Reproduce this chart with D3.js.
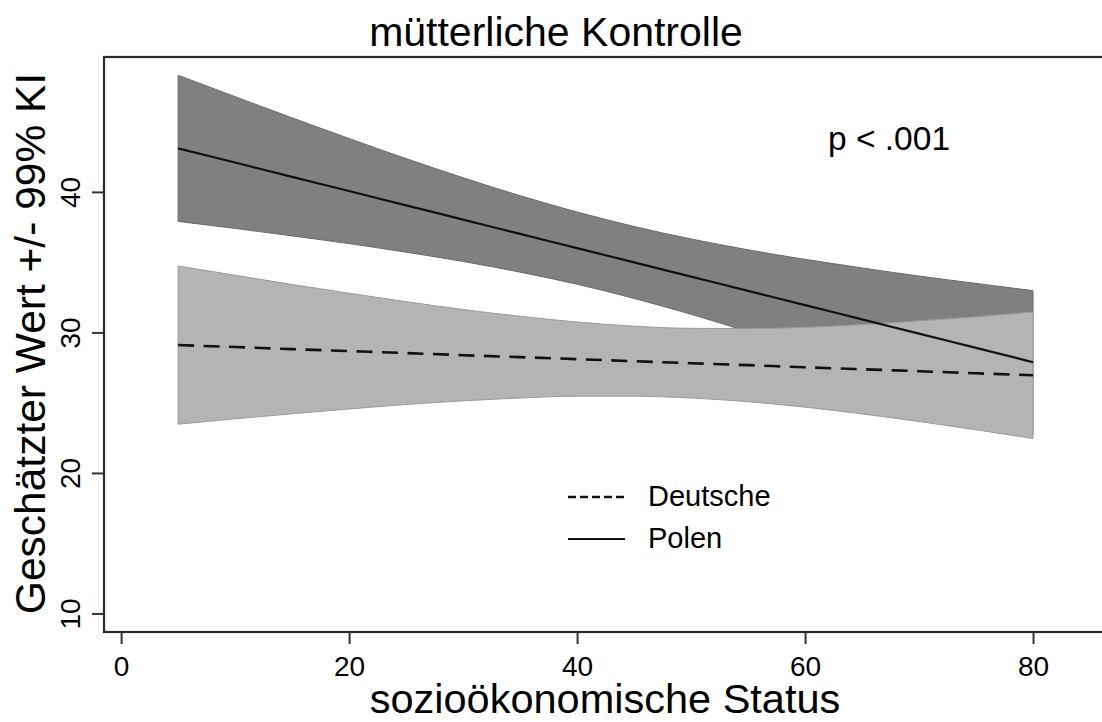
<!DOCTYPE html>
<html>
<head>
<meta charset="utf-8">
<script src="https://cdn.jsdelivr.net/npm/d3@7"></script>
<style>
  body { margin: 0; background: white; }
  text { font-family: "Liberation Sans", Arial, sans-serif; fill: black; }
</style>
</head>
<body>
<script>
// values
var ses = [5, 10, 15, 20, 25, 30, 35, 40, 45, 50, 55, 60, 65, 70, 75, 80];

var polenFit = [43.10, 42.09, 41.07, 40.06, 39.04, 38.03, 37.01, 36.00, 34.98, 33.97, 32.96, 31.94, 30.93, 29.91, 28.90, 27.88];
var polenUpper = [48.30, 46.78, 45.27, 43.80, 42.37, 41.01, 39.73, 38.57, 37.54, 36.65, 35.88, 35.20, 34.59, 34.01, 33.49, 32.97];
var polenLower = [37.90, 37.40, 36.87, 36.32, 35.71, 35.05, 34.29, 33.43, 32.42, 31.29, 30.04, 28.68, 27.27, 25.81, 24.31, 22.79];

var deutscheFit = [29.10, 28.96, 28.81, 28.67, 28.53, 28.38, 28.24, 28.10, 27.95, 27.81, 27.67, 27.52, 27.38, 27.24, 27.09, 26.95];
var deutscheUpper = [34.73, 34.07, 33.41, 32.79, 32.19, 31.63, 31.15, 30.74, 30.44, 30.29, 30.27, 30.36, 30.56, 30.82, 31.11, 31.45];
var deutscheLower = [23.47, 23.85, 24.21, 24.55, 24.87, 25.13, 25.33, 25.46, 25.46, 25.33, 25.07, 24.68, 24.20, 23.66, 23.07, 22.45];

var xTicks = [0, 20, 40, 60, 80];
var yTicks = [10, 20, 30, 40];
var legendLabels = ["Deutsche", "Polen"];

var width = 1102,
  height = 722;

var svg = d3.select('body')
  .append('svg')
  .attr('width', width)
  .attr('height', height)
  .style('background', 'white');

// Scales (plot box runs a little past the right edge of the picture)
var xScale = d3.scaleLinear()
  .domain([-1.5, 86.4])
  .range([104, 1106]);

var yScale = d3.scaleLinear()
  .domain([8.68, 49.6])
  .range([632, 57]);

var area = d3.area()
  .x(function(d) { return xScale(d.x); })
  .y0(function(d) { return yScale(d.lo); })
  .y1(function(d) { return yScale(d.hi); })
  .curve(d3.curveMonotoneX);

var line = d3.line()
  .x(function(d) { return xScale(d.x); })
  .y(function(d) { return yScale(d.y); })
  .curve(d3.curveMonotoneX);

var polenBand = ses.map(function(x, i) { return {x: x, lo: polenLower[i], hi: polenUpper[i]}; });
var deutscheBand = ses.map(function(x, i) { return {x: x, lo: deutscheLower[i], hi: deutscheUpper[i]}; });
var polenLine = ses.map(function(x, i) { return {x: x, y: polenFit[i]}; });
var deutscheLine = ses.map(function(x, i) { return {x: x, y: deutscheFit[i]}; });

// Bands: Polen dark, Deutsche light on top
svg.append('path')
  .datum(polenBand)
  .attr('d', area)
  .attr('fill', '#808080')
  .attr('stroke', '#6a6a6a')
  .attr('stroke-width', 1);

svg.append('path')
  .datum(deutscheBand)
  .attr('d', area)
  .attr('fill', '#b4b4b4')
  .attr('stroke', '#9a9a9a')
  .attr('stroke-width', 1);

// Fit lines
svg.append('path')
  .datum(deutscheLine)
  .attr('d', line)
  .attr('fill', 'none')
  .attr('stroke', '#111')
  .attr('stroke-width', 2.6)
  .attr('stroke-dasharray', '16,9.5');

svg.append('path')
  .datum(polenLine)
  .attr('d', line)
  .attr('fill', 'none')
  .attr('stroke', '#111')
  .attr('stroke-width', 2.2);

// Plot box
svg.append('rect')
  .attr('x', xScale.range()[0])
  .attr('y', yScale.range()[1])
  .attr('width', xScale.range()[1] - xScale.range()[0])
  .attr('height', yScale.range()[0] - yScale.range()[1])
  .attr('fill', 'none')
  .attr('stroke', '#2a2a2a')
  .attr('stroke-width', 2.2);

// Axes
var xAxis = svg.append('g')
  .attr('transform', `translate(0,${yScale.range()[0] + 1})`)
  .call(d3.axisBottom(xScale).tickValues(xTicks).tickSize(11).tickPadding(12));
xAxis.select('.domain').remove();
xAxis.selectAll('line').attr('stroke', '#333').attr('stroke-width', 2);
xAxis.selectAll('text')
  .style('font-family', '"Liberation Sans", Arial, sans-serif')
  .style('font-size', '28px')
  .attr('fill', 'black');

var yAxis = svg.append('g')
  .attr('transform', `translate(${xScale.range()[0] - 1},0)`)
  .call(d3.axisLeft(yScale).tickValues(yTicks).tickSize(11));
yAxis.select('.domain').remove();
yAxis.selectAll('line').attr('stroke', '#333').attr('stroke-width', 2);
yAxis.selectAll('text')
  .attr('x', 0)
  .attr('y', -23)
  .attr('dy', 0)
  .attr('transform', 'rotate(-90)')
  .attr('text-anchor', 'middle')
  .style('font-family', '"Liberation Sans", Arial, sans-serif')
  .style('font-size', '28px')
  .attr('fill', 'black');

// Titles
svg.append('text')
  .attr('x', 556)
  .attr('y', 46)
  .attr('text-anchor', 'middle')
  .style('font-size', '41px')
  .text('mütterliche Kontrolle');

svg.append('text')
  .attr('x', 605)
  .attr('y', 713)
  .attr('text-anchor', 'middle')
  .style('font-size', '41.5px')
  .text('sozioökonomische Status');

svg.append('text')
  .attr('transform', `translate(45,${(yScale.range()[0] + yScale.range()[1]) / 2 - 1}) rotate(-90)`)
  .attr('text-anchor', 'middle')
  .style('font-size', '42.5px')
  .text('Geschätzter Wert +/- 99% KI');

// p value
svg.append('text')
  .attr('x', 828)
  .attr('y', 150)
  .style('font-size', '33.5px')
  .text('p < .001');

// Handmade legend
var legX = 568, legY = 497;
svg.append('line').attr('x1', legX).attr('x2', legX + 57).attr('y1', legY).attr('y2', legY)
  .attr('stroke', '#111').attr('stroke-width', 2.6).attr('stroke-dasharray', '8,4');
svg.append('line').attr('x1', legX).attr('x2', legX + 57).attr('y1', legY + 42).attr('y2', legY + 42)
  .attr('stroke', '#111').attr('stroke-width', 2);
svg.append('text').attr('x', 648).attr('y', legY + 9).style('font-size', '29px').text(legendLabels[0]);
svg.append('text').attr('x', 648).attr('y', legY + 51).style('font-size', '29px').text(legendLabels[1]);
</script>
</body>
</html>
